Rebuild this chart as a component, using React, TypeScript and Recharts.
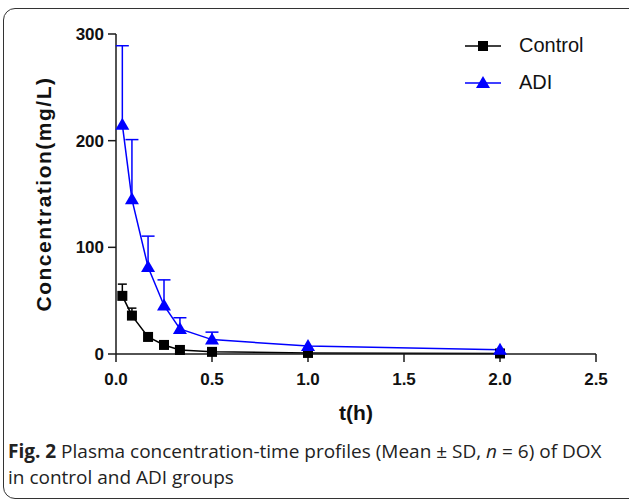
import React from 'react';
import { LineChart, Line, XAxis, YAxis, ErrorBar, Legend, Label } from 'recharts';

// sampling times (h)
const times = [0.033, 0.083, 0.167, 0.25, 0.333, 0.5, 1, 2];
const controlMean = [54.5, 36, 16, 8.5, 3.8, 2, 1, 0.5];
// only the SD bars that stick out of the markers are drawn
const controlSD = [11, 7, null, null, null, null, null, null];
const adiMean = [215, 145, 81.5, 45.5, 23.5, 13.5, 7.5, 4];
const adiSD = [74, 56, 29, 24, 10.5, 7, null, null];
const xTicks = [0, 0.5, 1, 1.5, 2, 2.5];
const yTicks = [0, 100, 200, 300];

const BLUE = '#0000ff';
const AXIS = '#1a1a1a';
const FONT = 'Liberation Sans, Arial, sans-serif';

const data = times.map((t, i) => ({
  t,
  control: controlMean[i],
  controlErr: controlSD[i] == null ? null : [0, controlSD[i]],
  controlTop: controlSD[i] == null ? null : controlMean[i] + (controlSD[i] as number),
  adi: adiMean[i],
  adiErr: adiSD[i] == null ? null : [0, adiSD[i]],
  adiTop: adiSD[i] == null ? null : adiMean[i] + (adiSD[i] as number),
}));

const SquareDot = (props: any) => {
  const { cx, cy } = props;
  if (cx == null || cy == null) return null;
  return <rect x={cx - 5} y={cy - 5} width={10} height={10} fill="#000" />;
};

const TriangleDot = (props: any) => {
  const { cx, cy } = props;
  if (cx == null || cy == null) return null;
  return <polygon points={`${cx},${cy - 7} ${cx - 7},${cy + 5} ${cx + 7},${cy + 5}`} fill={BLUE} />;
};

// cap at the top of an SD bar
const makeCap = (half: number, color: string) => (props: any) => {
  const { cx, cy, value } = props;
  if (cx == null || cy == null || value == null) return null;
  return <line key={`${cx}-${cy}`} x1={cx - half} x2={cx + half} y1={cy} y2={cy} stroke={color} strokeWidth={1.5} />;
};

const legendItems = [
  { name: 'Control', color: '#000', shape: 'square' },
  { name: 'ADI', color: BLUE, shape: 'triangle' },
];

const renderLegend = () => (
  <div style={{ fontFamily: FONT, fontSize: 20, color: '#111' }}>
    {legendItems.map((it) => (
      <div key={it.name} style={{ display: 'flex', alignItems: 'center', height: 37 }}>
        <svg width={36} height={16} style={{ marginRight: 18 }}>
          <line x1={0} y1={8} x2={36} y2={8} stroke={it.color} strokeWidth={1.5} />
          {it.shape === 'square'
            ? <rect x={13} y={3} width={10} height={10} fill={it.color} />
            : <polygon points="18,1 11,13 25,13" fill={it.color} />}
        </svg>
        <span>{it.name}</span>
      </div>
    ))}
  </div>
);

const tickStyle = { fontFamily: FONT, fontSize: 17, fontWeight: 700, fill: '#111' };

const App = () => {
  return (
    <div style={{ position: 'absolute', left: 0, top: 0, width: 629, height: 499, overflow: 'hidden', background: '#fff' }}>
      <div style={{
        position: 'absolute', left: 3, top: 8, width: 640, height: 489,
        border: '1.5px solid #333', borderRadius: 12,
      }} />
      <LineChart
        width={629}
        height={430}
        data={data}
        margin={{ top: 34, right: 33, left: 0, bottom: 6 }}
      >
        <XAxis
          dataKey="t"
          type="number"
          domain={[0, 2.5]}
          ticks={xTicks}
          tickFormatter={(v: number) => v.toFixed(1)}
          height={70}
          tickSize={8}
          tickMargin={11}
          stroke={AXIS}
          strokeWidth={1.5}
          tick={tickStyle}
        >
          <Label
            value="t(h)"
            position="insideBottom"
            offset={4}
            style={{ fontFamily: FONT, fontSize: 21, fontWeight: 700, fill: '#111' }}
          />
        </XAxis>
        <YAxis
          type="number"
          domain={[0, 300]}
          ticks={yTicks}
          width={116}
          tickSize={8}
          tickMargin={4}
          stroke={AXIS}
          strokeWidth={1.5}
          tick={tickStyle}
        >
          <Label
            content={(props: any) => {
              const vb = props.viewBox;
              const x = 43;
              const y = vb.y + vb.height / 2;
              return (
                <text
                  x={x}
                  y={y}
                  transform={`rotate(-90, ${x}, ${y})`}
                  textAnchor="middle"
                  dominantBaseline="central"
                  style={{ fontFamily: FONT, fontSize: 21, fontWeight: 700, fill: '#111', letterSpacing: 1.5 }}
                >
                  Concentration(mg/L)
                </text>
              );
            }}
          />
        </YAxis>
        <Legend
          content={renderLegend}
          layout="horizontal"
          verticalAlign="middle"
          align="center"
          wrapperStyle={{ top: 27, left: 465, width: 160 }}
        />
        {/* SD caps, drawn as dots of a line with no stroke */}
        <Line dataKey="controlTop" stroke="none" dot={makeCap(4.5, '#000')} activeDot={false} legendType="none" isAnimationActive={false} />
        <Line dataKey="adiTop" stroke="none" dot={makeCap(6.5, BLUE)} activeDot={false} legendType="none" isAnimationActive={false} />
        <Line
          dataKey="control"
          name="Control"
          stroke="#000"
          strokeWidth={1.5}
          dot={<SquareDot />}
          activeDot={false}
          isAnimationActive={false}
        >
          <ErrorBar dataKey="controlErr" direction="y" width={0} stroke="#000" strokeWidth={1.5} />
        </Line>
        <Line
          dataKey="adi"
          name="ADI"
          stroke={BLUE}
          strokeWidth={1.5}
          dot={<TriangleDot />}
          activeDot={false}
          isAnimationActive={false}
        >
          <ErrorBar dataKey="adiErr" direction="y" width={0} stroke={BLUE} strokeWidth={1.5} />
        </Line>
      </LineChart>
      <div style={{
        position: 'absolute', left: 8, top: 438, width: 620,
        fontFamily: 'Open Sans, sans-serif', fontSize: 19, lineHeight: '26px', color: '#222',
      }}>
        <b>Fig. 2</b> Plasma concentration-time profiles (Mean ± SD, <i>n</i> = 6) of DOX<br />
        in control and ADI groups
      </div>
    </div>
  );
};

export default App;
